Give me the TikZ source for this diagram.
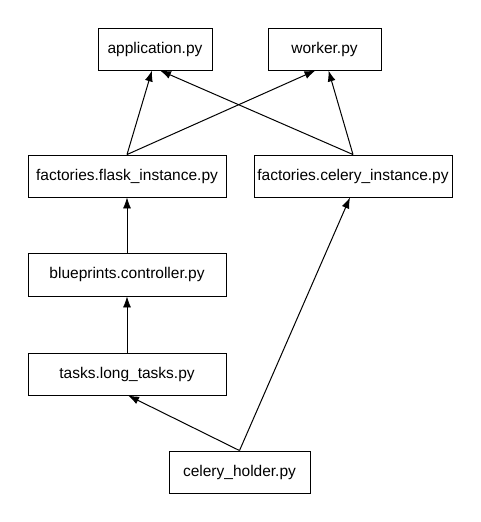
\documentclass[tikz,border=0pt]{standalone}
\usepackage{fontspec}
\setmainfont{Liberation Sans}
\usetikzlibrary{arrows.meta}

\begin{document}
\begin{tikzpicture}[x=1pt, y=1pt,
  filebox/.style={draw, line width=0.9pt, inner sep=0pt, minimum height=42pt,
    font=\fontsize{15.5}{18}\selectfont},
  dep/.style={-{Latex[length=11pt,width=8pt]}, line width=1pt}]
\useasboundingbox (0, 0) rectangle (480, 522);
\node[filebox, minimum width=114pt] (app) at (155, 473) {application.py};
\node[filebox, minimum width=113pt] (worker) at (324.5, 473) {worker.py};
\node[filebox, minimum width=198pt] (flask) at (127, 346) {factories.flask\_instance.py};
\node[filebox, minimum width=198pt] (celery) at (353, 346) {factories.celery\_instance.py};
\node[filebox, minimum width=198pt, minimum height=43pt] (ctrl) at (127, 247.5) {blueprints.controller.py};
\node[filebox, minimum width=198pt] (tasks) at (127, 148) {tasks.long\_tasks.py};
\node[filebox, minimum width=141pt] (holder) at (239.5, 50) {celery\_holder.py};
\draw[dep] (flask.north) -- ([xshift=-3pt]app.south);
\draw[dep] (celery.north) -- ([xshift=5pt]app.south);
\draw[dep] (flask.north) -- ([xshift=-9pt]worker.south);
\draw[dep] (celery.north) -- ([xshift=4pt]worker.south);
\draw[dep, line width=0.7pt] (ctrl.north) -- (flask.south);
\draw[dep, line width=0.7pt] (tasks.north) -- (ctrl.south);
\draw[dep] (holder.north) -- ([xshift=1pt]tasks.south);
\draw[dep] (holder.north) -- ([xshift=-3pt]celery.south);
\end{tikzpicture}
\end{document}
